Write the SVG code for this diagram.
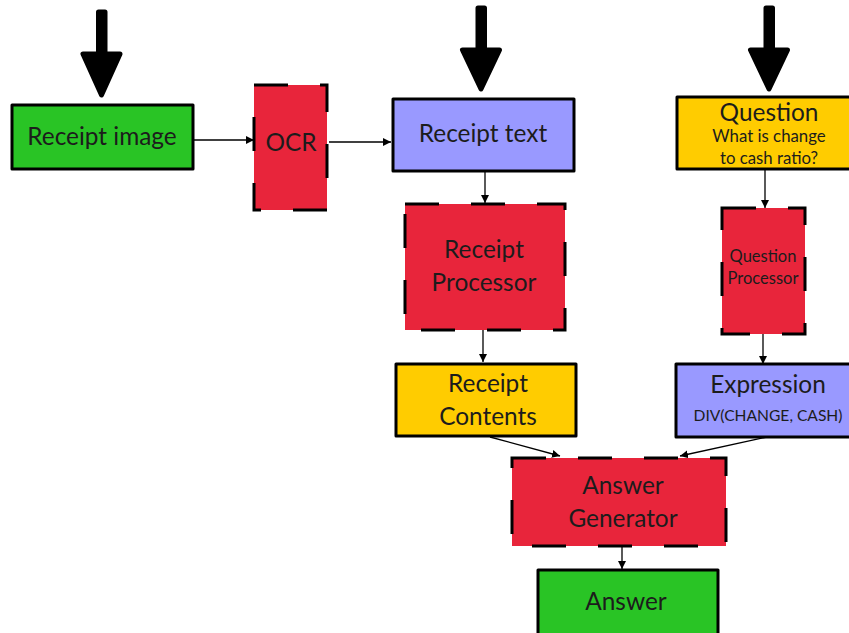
<svg xmlns="http://www.w3.org/2000/svg" width="849" height="633" viewBox="0 0 849 633">
<defs>
<style>
.box{stroke:#000;stroke-width:3;stroke-linejoin:round}
.dash{stroke:#000;stroke-width:3;stroke-dasharray:34 32}
.green{fill:#29c425}
.red{fill:#e8253b}
.blue{fill:#9999ff}
.yellow{fill:#ffcc00}
text{font-family:Lato,"Open Sans","Liberation Sans",sans-serif;fill:#1c1c1c;text-anchor:middle}
.t22{font-size:24.4px}
.t16{font-size:16.8px}
.t15{font-size:15.6px}
.t15b{font-size:16.5px}
.conn{stroke:#000;stroke-width:1.3;fill:none;marker-end:url(#ah)}
.big{fill:#000;stroke:#000;stroke-width:5;stroke-linejoin:round}
</style>
<marker id="ah" viewBox="0 0 10 10" refX="10" refY="5" markerWidth="8" markerHeight="8" markerUnits="userSpaceOnUse" orient="auto">
<path d="M0,0 L10,5 L0,10 z" fill="#000"/>
</marker>
</defs>
<g id="connectors">
<path class="big" d="M98.5,12 H105 V54 H120 L101.5,95 L83,54 H98.5 Z"/>
<path class="big" d="M478,8 H484.5 V50 H499.5 L481,89 L462.5,50 H478 Z"/>
<path class="big" d="M766,8 H772.5 V50 H787.5 L769,89 L750.5,50 H766 Z"/>
<path class="conn" d="M193,140 H254"/>
<path class="conn" d="M329,142 H391"/>
<path class="conn" d="M485,171 V203"/>
<path class="conn" d="M765,169 V208"/>
<path class="conn" d="M483,330 V362"/>
<path class="conn" d="M763,334 V364"/>
<path class="conn" d="M490,437 L560,456"/>
<path class="conn" d="M767,437 L680,456"/>
<path class="conn" d="M622,546 V569"/>
</g>
<g id="receipt-image">
<rect class="box green" x="12" y="105" width="181" height="64"/>
<text class="t22" x="102" y="145">Receipt image</text>
</g>
<g id="ocr">
<rect class="dash red" x="254" y="85" width="73" height="125"/>
<text class="t22" x="291" y="151">OCR</text>
</g>
<g id="receipt-text">
<rect class="box blue" x="393" y="99" width="181" height="72"/>
<text class="t22" x="483" y="142">Receipt text</text>
</g>
<g id="question">
<rect class="box yellow" x="677" y="97" width="175" height="72"/>
<text class="t22" x="769" y="121">Question</text>
<text class="t16" x="769" y="142">What is change</text>
<text class="t16" x="769" y="164">to cash ratio?</text>
</g>
<g id="receipt-processor">
<rect class="dash red" x="405" y="204" width="160" height="126"/>
<text class="t22" x="484" y="258">Receipt</text>
<text class="t22" x="484" y="291">Processor</text>
</g>
<g id="question-processor">
<rect class="dash red" x="722" y="208" width="83" height="126"/>
<text class="t15b" x="763" y="262">Question</text>
<text class="t15b" x="763" y="284">Processor</text>
</g>
<g id="receipt-contents">
<rect class="box yellow" x="396" y="364" width="180" height="72"/>
<text class="t22" x="488" y="392">Receipt</text>
<text class="t22" x="488" y="425">Contents</text>
</g>
<g id="expression">
<rect class="box blue" x="676" y="364" width="176" height="73"/>
<text class="t22" x="768" y="393">Expression</text>
<text class="t15" x="768" y="421">DIV(CHANGE, CASH)</text>
</g>
<g id="answer-generator">
<rect class="dash red" x="512" y="458" width="214" height="88"/>
<text class="t22" x="623" y="494">Answer</text>
<text class="t22" x="623" y="527">Generator</text>
</g>
<g id="answer">
<rect class="box green" x="538" y="570" width="180" height="66"/>
<text class="t22" x="626" y="610">Answer</text>
</g>
</svg>
